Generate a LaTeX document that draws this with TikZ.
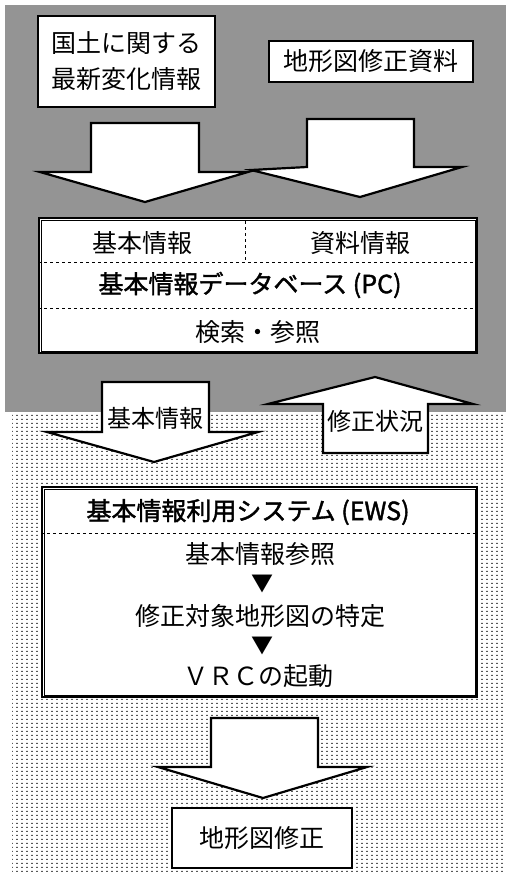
\documentclass[tikz,border=0pt]{standalone}
\usepackage{fontspec}
\newfontfamily\jp{Noto Sans CJK JP}
\newfontfamily\jpb{Noto Sans CJK JP}[FakeBold=1.6]
\usetikzlibrary{patterns.meta}
\pgfdeclarepattern{
  name=refdots,
  type=uncolored,
  bottom left={\pgfpoint{0pt}{0pt}},
  top right={\pgfpoint{5pt}{4pt}},
  tile size={\pgfpoint{5pt}{4pt}},
  code={\pgfpathrectangle{\pgfpoint{1.7pt}{1.3pt}}{\pgfpoint{1.5pt}{1.4pt}}\pgfusepath{fill}}
}
\tikzset{
  box/.style={draw, line width=1.4pt, fill=white, inner sep=0pt},
  dbox/.style={draw, line width=1.1pt, fill=white, inner sep=0pt},
  innerframe/.style={line width=0.7pt},
  blockarrow/.style={draw, line width=2.2pt, fill=white, line join=miter},
  divider/.style={dash pattern=on 3pt off 3pt, line width=0.7pt},
  txt/.style={font=\jp\fontsize{25}{36}\selectfont, inner sep=0pt, align=center},
  btxt/.style={font=\jpb\fontsize{25}{36}\selectfont, inner sep=0pt},
  ltxt/.style={font=\jp\fontsize{24}{30}\selectfont, inner sep=0pt},
  tri/.style={font=\jp\fontsize{22}{26}\selectfont, inner sep=0pt}
}
\begin{document}
\begin{tikzpicture}[x=1pt,y=-1pt]
\useasboundingbox (0,0) rectangle (506,876);
\fill[white] (0,0) rectangle (506,876);
% background regions
\fill[black!42] (5,5) rectangle (506,412);
\fill[pattern=refdots, pattern color=black] (12,412) rectangle (506,873);

% top boxes
\node[box, minimum width=177pt, minimum height=91pt] (src1) at (126.5,61.5) {};
\node[txt] (src1t) at (src1.center) {国土に関する\\最新変化情報};
\node[box, minimum width=204pt, minimum height=41pt] (src2) at (371,61.5) {};
\node[txt] (src2t) at (src2.center) {地形図修正資料};

% top arrows
\draw[blockarrow] (91,123) -- (199,123) -- (199,172) -- (248,172) -- (145,202) -- (40,172) -- (91,172) -- cycle;
\draw[blockarrow] (307,119) -- (414,119) -- (414,167) -- (462,167) -- (360,197) -- (251,170) -- (307,167) -- cycle;

% database box
\node[dbox, minimum width=438pt, minimum height=135pt] (pc) at (258,285.5) {};
\draw[innerframe] ([shift={(2.6pt,-2.6pt)}]pc.north west) rectangle ([shift={(-2.6pt,2.6pt)}]pc.south east);
\draw[divider] (pc.west |- 0,262) -- (pc.east |- 0,262);
\draw[divider] (pc.west |- 0,308) -- (pc.east |- 0,308);
\draw[divider] (245,221) -- (245,262);
\node[txt] (pc1) at (142,243) {基本情報};
\node[txt] (pc2) at (360,243) {資料情報};
\node[btxt] (pc3) at (250,285) {基本情報データベース (PC)};
\node[txt] (pc4) at (258,332) {検索・参照};

% middle arrows
\draw[blockarrow] (102,382) -- (209,382) -- (209,432) -- (258,432) -- (154,462) -- (47,432) -- (102,432) -- cycle;
\node[ltxt] (a3t) at (155,418) {基本情報};
\draw[blockarrow] (323,453) -- (428,453) -- (428,404) -- (473,404) -- (375,377) -- (268,404) -- (323,404) -- cycle;
\node[ltxt] (a4t) at (375,421) {修正状況};

% EWS box
\node[dbox, minimum width=435pt, minimum height=210pt] (ews) at (259.5,592) {};
\draw[innerframe] ([shift={(2.6pt,-2.6pt)}]ews.north west) rectangle ([shift={(-2.6pt,2.6pt)}]ews.south east);
\draw[divider] (ews.west |- 0,533) -- (ews.east |- 0,533);
\node[btxt] (e1) at (248,512) {基本情報利用システム (EWS)};
\node[txt] (e2) at (260,554) {基本情報参照};
\node[tri] (e3) at (262,584) {▼};
\node[txt] (e4) at (260,616) {修正対象地形図の特定};
\node[tri] (e5) at (262,646) {▼};
\node[txt] (e6) at (258,676) {ＶＲＣの起動};

% bottom arrow
\draw[blockarrow] (211,718) -- (318,718) -- (318,767) -- (367,767) -- (263,798) -- (158,767) -- (211,767) -- cycle;

% final box
\node[box, minimum width=180pt, minimum height=60pt] (fin) at (262,838) {};
\node[txt] (fint) at (fin.center) {地形図修正};
\end{tikzpicture}
\end{document}
